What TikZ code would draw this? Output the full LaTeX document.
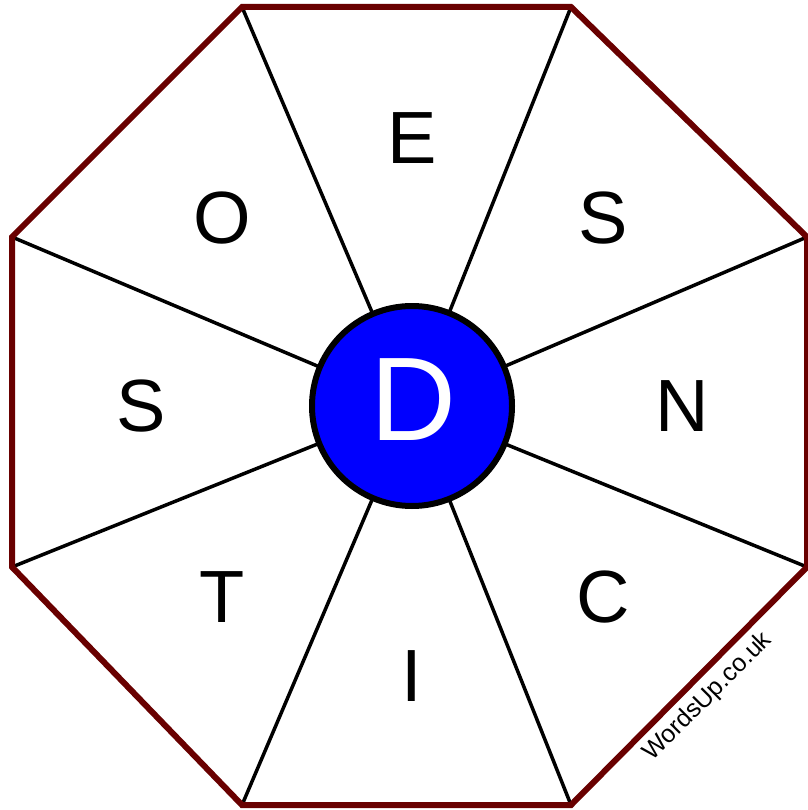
\documentclass[tikz,border=0pt]{standalone}
\usepackage{fontspec}
\setmainfont{Liberation Sans}
\definecolor{octred}{RGB}{105,0,0}
\definecolor{dblue}{RGB}{0,0,255}
\begin{document}
\begin{tikzpicture}[x=1pt,y=-1pt,
  spoke/.style={line width=3.5pt,black},
  rim/.style={line width=6pt,octred,line join=miter},
  letter/.style={inner sep=0pt,font=\fontsize{74}{74}\selectfont},
  hub/.style={circle,minimum size=200pt,inner sep=0pt,fill=dblue,draw=black,line width=6pt}]
\useasboundingbox (0,0) rectangle (807,810);
\fill[white] (0,0) rectangle (807,810);
\coordinate (v1) at (242,7);
\coordinate (v2) at (571,7);
\coordinate (v3) at (807,237);
\coordinate (v4) at (807,567);
\coordinate (v5) at (571,805);
\coordinate (v6) at (242,805);
\coordinate (v7) at (12,567);
\coordinate (v8) at (12,237);
\coordinate (c) at (412,406);
\foreach \v in {v1,v2,v3,v4,v5,v6,v7,v8} \draw[spoke] (\v) -- (c);
\draw[rim] (v1) -- (v2) -- (v3) -- (v4) -- (v5) -- (v6) -- (v7) -- (v8) -- cycle;
\node[hub] (hub) at (c) {};
\node[inner sep=0pt,text=white,font=\fontsize{119}{119}\selectfont] (d) at (413,400) {D};
\node[letter] (e) at (412,138) {E};
\node[letter] (s1) at (603,218) {S};
\node[letter] (n) at (682,406) {N};
\node[letter] (cc) at (603,597) {C};
\node[letter] (i) at (412,676) {I};
\node[letter] (t) at (222,597) {T};
\node[letter] (s2) at (141,406) {S};
\node[letter] (o) at (222,218) {O};
\node[inner sep=0pt,rotate=45,font=\fontsize{25}{25}\selectfont] (wm) at (708,697) {WordsUp.co.uk};
\end{tikzpicture}
\end{document}
